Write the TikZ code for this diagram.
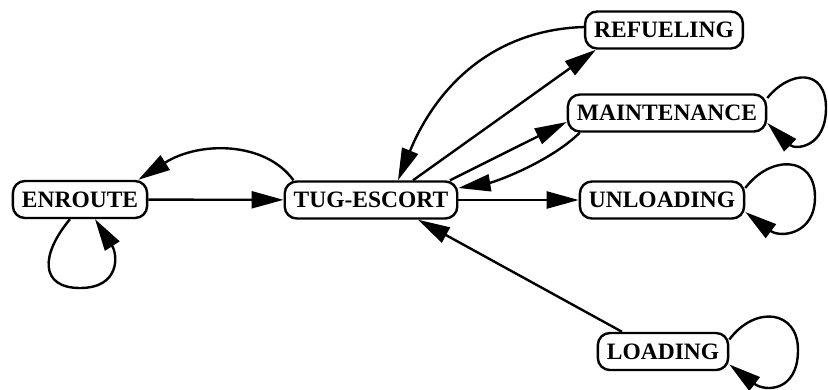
\documentclass[tikz,border=0pt]{standalone}
\usepackage{fontspec}
\setmainfont{Liberation Serif}
\usetikzlibrary{arrows.meta}
\newcommand{\statefont}{\fontsize{23.5}{28}\selectfont\bfseries}
\begin{document}
\begin{tikzpicture}[x=1pt,y=-1pt,line width=2.4pt,
  >={Triangle[length=32pt,width=17pt]},
  state/.style={draw,rounded corners=12pt,minimum height=37pt,
    inner xsep=9pt,inner ysep=0pt,font=\statefont}]
\useasboundingbox (0,0) rectangle (828,389);

% states
\node[state] (en)    at (80,199.5)  {ENROUTE};
\node[state] (tug)   at (371,200)   {TUG-ESCORT};
\node[state] (ref)   at (664,30)    {REFUELING};
\node[state] (maint) at (667,113)   {MAINTENANCE};
\node[state] (unl)   at (662,200)   {UNLOADING};
\node[state] (load)  at (663,351.5) {LOADING};

% transitions
\draw[->] (en) -- (tug);
\draw[->] ([xshift=10pt]tug.north west) .. controls (265,141) and (199,141) .. ([xshift=-10pt]en.north east);
\draw[->] ([xshift=-10pt]en.south) .. controls (40,255) and (40,288) .. (80,288)
          .. controls (120,288) and (118,255) .. ([xshift=15pt]en.south);

\draw[->] ([xshift=42pt]tug.north) -- ([xshift=12pt]ref.south west);
\draw[->] ([yshift=3pt]ref.west) .. controls (490,30) and (435,90) .. ([xshift=27pt]tug.north);

\draw[->] ([xshift=79pt]tug.north) -- ([yshift=-9pt]maint.west);
\draw[->] ([xshift=13pt]maint.south west) .. controls (550,162) and (495,182) .. ([yshift=12pt]tug.east);
\draw[->] ([yshift=15pt]maint.east) .. controls (790,70) and (826,68) .. (826,108)
          .. controls (826,148) and (795,150) .. ([yshift=-10pt]maint.east);

\draw[->] (tug) -- (unl);
\draw[->] ([yshift=12pt]unl.east) .. controls (770,155) and (815,155) .. (815,197)
          .. controls (815,235) and (780,238) .. ([yshift=-12pt]unl.east);

\draw[->] ([xshift=-41pt]load.north) -- ([xshift=47pt]tug.south);
\draw[->] ([yshift=12pt]load.east) .. controls (755,305) and (798,310) .. (798,350)
          .. controls (798,392) and (765,392) .. ([yshift=-13pt]load.east);
\end{tikzpicture}
\end{document}
